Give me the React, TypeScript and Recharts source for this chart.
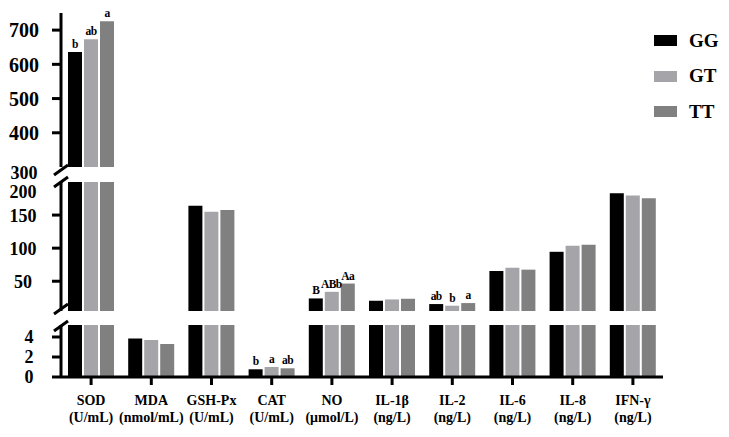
import React from 'react'
import { BarChart, Bar, XAxis, YAxis, Legend, LabelList } from 'recharts'

const categories = ['SOD', 'MDA', 'GSH-Px', 'CAT', 'NO', 'IL-1β', 'IL-2', 'IL-6', 'IL-8', 'IFN-γ']
const units = ['(U/mL)', '(nmol/mL)', '(U/mL)', '(U/mL)', '(μmol/L)', '(ng/L)', '(ng/L)', '(ng/L)', '(ng/L)', '(ng/L)']

const gg = [636, 3.85, 164, 0.77, 24, 20.5, 15.5, 65.5, 94.5, 183]
const gt = [673, 3.7, 155, 1.0, 34, 22.5, 13, 70.5, 103.5, 179.5]
const tt = [726, 3.3, 157.5, 0.87, 46.5, 23.5, 17, 67.5, 105, 175.5]

const ggLetters = ['b', '', '', 'b', 'B', '', 'ab', '', '', '']
const gtLetters = ['ab', '', '', 'a', 'ABb', '', 'b', '', '', '']
const ttLetters = ['a', '', '', 'ab', 'Aa', '', 'a', '', '', '']

const topTicks = [300, 400, 500, 600, 700]
const midTicks = [50, 100, 150, 200]
const lowTicks = [0, 2, 4]

const COLORS = { GG: '#000000', GT: '#a5a5a9', TT: '#808080' }
const FONT = '"Liberation Serif", "Times New Roman", serif'

// rows for one axis segment: bars under the segment are dropped, letters only where the top shows
function rows(lo: number, hi: number) {
  const inside = (v: number) => v >= lo && v <= hi
  return categories.map((name, i) => ({
    name,
    GG: gg[i] < lo ? null : gg[i],
    GT: gt[i] < lo ? null : gt[i],
    TT: tt[i] < lo ? null : tt[i],
    GGlab: inside(gg[i]) ? ggLetters[i] : '',
    GTlab: inside(gt[i]) ? gtLetters[i] : '',
    TTlab: inside(tt[i]) ? ttLetters[i] : '',
  }))
}

function YTick({ x, y, payload, size, center, edge, edgeShift, edgeSize }: any) {
  const axisX = x + 17
  const isEdge = payload.value === edge
  return (
    <g>
      {!isEdge && <line x1={axisX - 9} x2={axisX} y1={y} y2={y} stroke="#000" strokeWidth={3} />}
      <text
        x={x - (44 - center)}
        y={y + (isEdge ? edgeShift : 0)}
        dy="0.36em"
        textAnchor="middle"
        fontFamily={FONT}
        fontWeight="bold"
        fontSize={isEdge ? edgeSize : size}
        fill="#000"
      >
        {payload.value}
      </text>
    </g>
  )
}

function XTick({ x, y, payload }: any) {
  return (
    <text x={x} y={y} textAnchor="middle" fontFamily={FONT} fontWeight="bold" fontSize={14} fill="#000">
      <tspan x={x} dy={18}>{payload.value}</tspan>
      <tspan x={x} dy={17}>{units[payload.index]}</tspan>
    </text>
  )
}

function LegendBox({ payload }: any) {
  return (
    <div>
      {(payload || []).map((p: any) => (
        <div key={p.value} style={{ display: 'flex', alignItems: 'center', height: 35.5 }}>
          <span style={{ display: 'inline-block', width: 23, height: 11, background: p.color, marginRight: 12 }} />
          <span style={{ fontFamily: FONT, fontWeight: 'bold', fontSize: 19, color: '#000' }}>{p.value}</span>
        </div>
      ))}
    </div>
  )
}

// significance letters; long ones sit a touch left like in the original
function Letter({ x, y, width, value }: any) {
  if (!value) return null
  const shift = String(value).length > 2 ? -0.5 : 0
  return (
    <text
      x={x + width / 2 + shift} y={y - 4} textAnchor="middle"
      fontFamily={FONT} fontWeight="bold" fontSize={11.5} letterSpacing={-0.6} fill="#000"
    >
      {value}
    </text>
  )
}

function series() {
  return (['GG', 'GT', 'TT'] as const).map((k) => (
    <Bar key={k} dataKey={k} name={k} fill={COLORS[k]} isAnimationActive={false}>
      <LabelList dataKey={`${k}lab`} content={<Letter />} />
    </Bar>
  ))
}

const axisLine = { stroke: '#000', strokeWidth: 3 }

export default function App() {
  return (
    <div style={{ position: 'absolute', left: 0, top: 0, width: 729, height: 437, background: '#fff' }}>
      {/* upper segment 300-750 */}
      <div style={{ position: 'absolute', left: 0, top: 0 }}>
        <BarChart width={729} height={182} data={rows(300, 750)} margin={{ top: 13, right: 66, bottom: 15, left: 0 }} barSize={14} barGap={2}>
          <XAxis dataKey="name" hide />
          <YAxis
            type="number" domain={[300, 750]} allowDataOverflow ticks={topTicks} interval={0}
            width={61} axisLine={axisLine} tickLine={false} tickSize={9} tickMargin={8}
            tick={<YTick size={20} center={24} edge={300} edgeShift={6} edgeSize={18} />}
          />
          <Legend
            layout="vertical" align="center" verticalAlign="middle"
            wrapperStyle={{ left: 654, top: 23, width: 75 }}
            content={<LegendBox />}
          />
          {series()}
        </BarChart>
      </div>

      {/* middle segment 5-200 */}
      <div style={{ position: 'absolute', left: 0, top: 170 }}>
        <BarChart width={729} height={144} data={rows(5, 200)} margin={{ top: 12, right: 66, bottom: 3, left: 0 }} barSize={14} barGap={2}>
          <XAxis dataKey="name" hide />
          <YAxis
            type="number" domain={[5, 200]} allowDataOverflow ticks={midTicks} interval={0}
            width={61} axisLine={axisLine} tickLine={false} tickSize={9} tickMargin={8}
            tick={<YTick size={18} center={23} edge={200} edgeShift={10} edgeSize={18} />}
          />
          {series()}
        </BarChart>
      </div>

      {/* lower segment 0-5.2 */}
      <div style={{ position: 'absolute', left: 0, top: 313 }}>
        <BarChart width={729} height={124} data={rows(0, 5.2)} margin={{ top: 12, right: 66, bottom: 0, left: 0 }} barSize={14} barGap={2}>
          <XAxis
            dataKey="name" height={60} interval={0}
            axisLine={axisLine} tickLine={{ stroke: '#000', strokeWidth: 3 }} tickSize={8} tickMargin={2}
            tick={<XTick />}
          />
          <YAxis
            type="number" domain={[0, 5.2]} allowDataOverflow ticks={lowTicks} interval={0}
            width={61} axisLine={axisLine} tickLine={false} tickSize={9} tickMargin={8}
            tick={<YTick size={18} center={29} edge={null} edgeShift={0} edgeSize={18} />}
          />
          {series()}
        </BarChart>
      </div>

      {/* axis break marks */}
      <svg width={729} height={437} style={{ position: 'absolute', left: 0, top: 0, pointerEvents: 'none' }}>
        {[170, 182, 309, 326].map((cy) => (
          <line key={cy} x1={54} y1={cy + 5} x2={68} y2={cy - 5} stroke="#000" strokeWidth={3} />
        ))}
      </svg>
    </div>
  )
}
